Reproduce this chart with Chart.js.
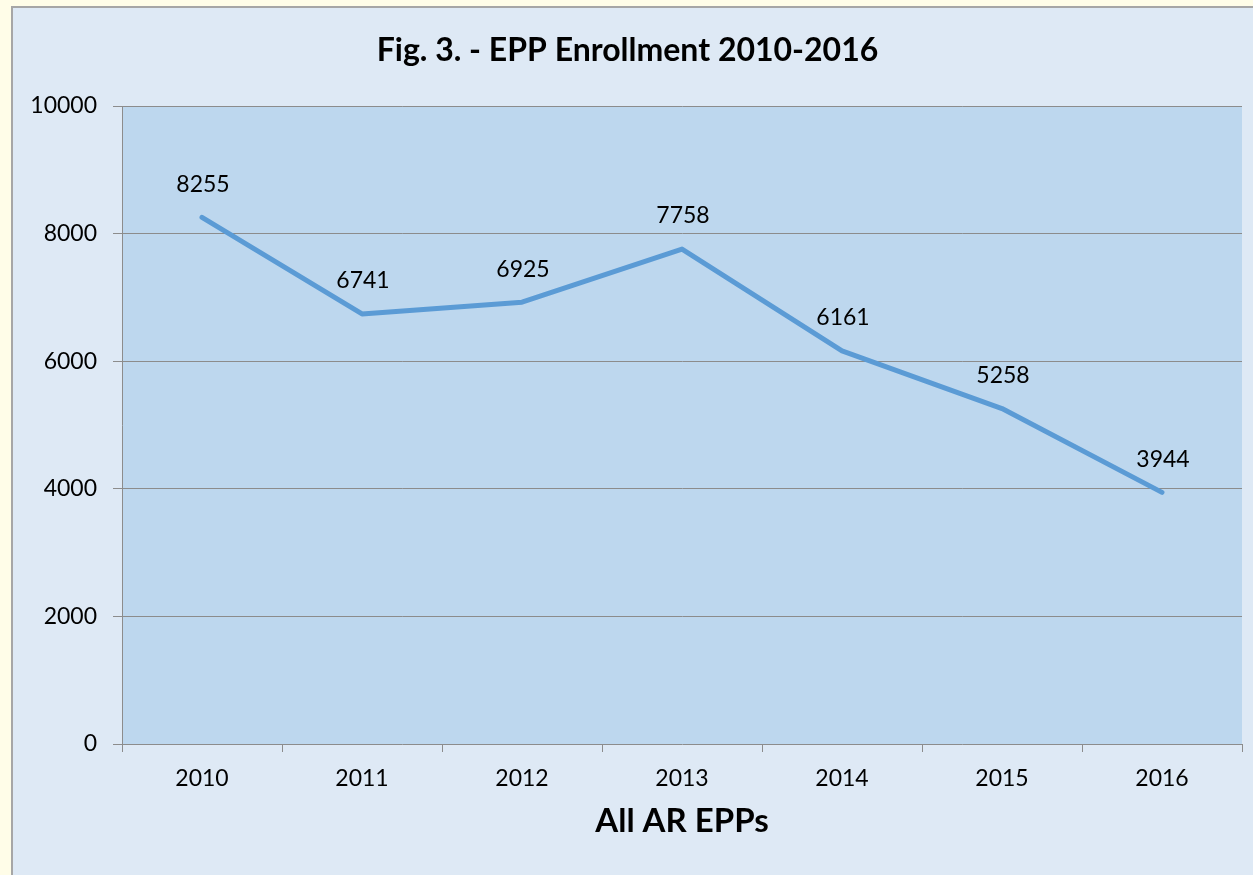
<!DOCTYPE html>
<html>
<head>
<meta charset="utf-8">
<script src="https://cdn.jsdelivr.net/npm/chart.js@4/dist/chart.umd.min.js"></script>
<style>
  html, body { margin: 0; padding: 0; background: #fffde8; }
  #wrap {
    position: absolute; left: 11px; top: 6px;
    width: 1240px; height: 867px;
    border-left: 2px solid #a6a6a6; border-top: 2px solid #a6a6a6;
    background: #dee9f5;
  }
</style>
</head>
<body>
<div id="wrap"><canvas id="enrollChart" width="1240" height="867"></canvas></div>
<script>
const years = ['2010', '2011', '2012', '2013', '2014', '2015', '2016'];
const enrollment = [8255, 6741, 6925, 7758, 6161, 5258, 3944];
const yTicks = [0, 2000, 4000, 6000, 8000, 10000];

// light blue fill behind the plot only
const plotBg = {
    id: 'plotBg',
    beforeDraw(chart) {
        const a = chart.chartArea;
        const c = chart.ctx;
        c.save();
        c.fillStyle = '#bdd7ee';
        c.fillRect(a.left, a.top, a.right - a.left, a.bottom - a.top);
        c.restore();
    }
};

// value labels above each point
const pointLabels = {
    id: 'pointLabels',
    afterDatasetsDraw(chart) {
        const c = chart.ctx;
        const meta = chart.getDatasetMeta(0);
        c.save();
        c.font = '23px Lato';
        c.fillStyle = '#000';
        c.textAlign = 'center';
        c.textBaseline = 'middle';
        meta.data.forEach((pt, i) => {
            c.fillText(String(enrollment[i]), pt.x + 1, pt.y - 33);
        });
        c.restore();
    }
};

const ctx = document.getElementById('enrollChart').getContext('2d');
const enrollChart = new Chart(ctx, {
    type: 'line',
    data: {
        labels: years,
        datasets: [{
            label: 'All AR EPPs',
            data: enrollment,
            borderColor: '#5b9bd5',
            borderWidth: 5,
            borderCapStyle: 'round',
            borderJoinStyle: 'round',
            pointRadius: 0,
            tension: 0,
            fill: false
        }]
    },
    options: {
        responsive: false,
        animation: false,
        layout: { padding: { top: 0, right: 11, left: 0, bottom: 0 } },
        plugins: {
            legend: { display: false },
            tooltip: { enabled: false },
            title: {
                display: true,
                text: 'Fig. 3. - EPP Enrollment 2010-2016',
                color: '#000',
                font: { family: 'Lato', size: 32, weight: 'bold' },
                padding: { top: 23, bottom: 36.6 }
            }
        },
        scales: {
            x: {
                offset: true,
                afterFit(scale) { scale.height = 131; },
                grid: {
                    offset: true,
                    drawOnChartArea: false,
                    color: '#8c8c8c',
                    tickLength: 8
                },
                border: { display: false },
                ticks: {
                    color: '#000',
                    font: { family: 'Lato', size: 23 },
                    padding: 13
                },
                title: {
                    display: true,
                    text: 'All AR EPPs',
                    color: '#000',
                    font: { family: 'Lato', size: 33, weight: 'bold' },
                    padding: { top: 2, bottom: 34 }
                }
            },
            y: {
                min: 0,
                max: 10000,
                afterBuildTicks(scale) {
                    scale.ticks = yTicks.map(v => ({ value: v }));
                },
                afterFit(scale) { scale.width = 109; },
                grid: { color: '#8c8c8c', tickLength: 9 },
                border: { color: '#8c8c8c' },
                ticks: {
                    color: '#000',
                    font: { family: 'Lato', size: 23 },
                    padding: 16,
                    callback: v => String(v)
                }
            }
        }
    },
    plugins: [plotBg, pointLabels]
});
</script>
</body>
</html>
